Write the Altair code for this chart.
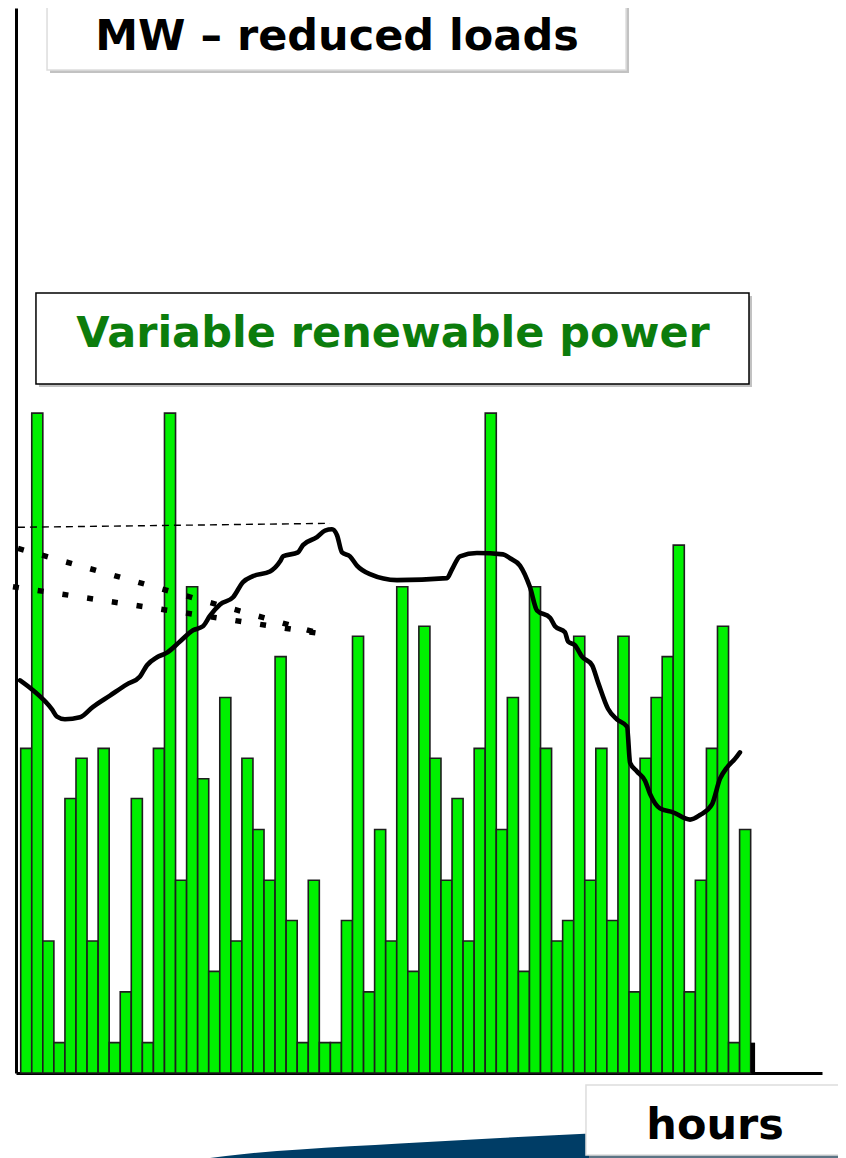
import altair as alt
import pandas as pd

# ---- data (MW shown in % of the tallest bar) ----
bar_values = [49.2, 100, 20, 4.6, 41.6, 47.7, 20, 49.2, 4.6, 12.3, 41.6, 4.6, 49.2, 100,
              29.2, 73.7, 44.6, 15.4, 56.9, 20, 47.7, 36.9, 29.2, 63.1, 23.1, 4.6, 29.2,
              4.6, 4.6, 23.1, 66.2, 12.3, 36.9, 20, 73.7, 15.4, 67.7, 47.7, 29.2, 41.6,
              20, 49.2, 100, 36.9, 56.9, 15.4, 73.7, 49.2, 20, 23.1, 66.2, 29.2, 49.2,
              23.1, 66.2, 12.3, 47.7, 56.9, 63.1, 80.0, 12.3, 29.2, 49.2, 67.7, 4.6, 36.9]

curve_x = [-0.06, 1.11, 2.83, 3.28, 4.0, 5.36, 6.54, 8.07, 9.6, 10.79, 11.42, 12.32, 13.23,
           14.4, 15.58, 16.48, 17.12, 18.02, 19.2, 20.1, 21.0, 22.54, 23.44, 23.72, 25.07,
           25.52, 26.79, 27.51, 28.15, 28.6, 29.05, 29.77, 30.4, 31.58, 34.02, 38.54, 38.99,
           39.72, 41.25, 43.61, 44.24, 45.14, 46.05, 46.68, 47.86, 48.31, 49.21, 49.49,
           50.12, 50.75, 51.66, 52.2, 53.1, 53.9, 54.82, 55.1, 55.72, 56.45, 56.9, 57.8,
           58.98, 60.52, 61.42, 62.5, 63.23, 63.86, 64.58, 65.03]
curve_y = [59.5, 58.0, 55.1, 54.0, 53.6, 53.9, 55.5, 57.2, 58.9, 60.1, 61.8, 63.0, 63.7,
           65.4, 67.1, 67.7, 69.3, 71.0, 72.1, 74.4, 75.3, 76.0, 77.5, 78.3, 78.9,
           80.0, 81.2, 82.2, 82.4, 81.5, 78.9, 78.3, 76.9, 75.6, 74.7, 75.0, 76.3,
           78.3, 78.8, 78.6, 78.0, 76.9, 73.6, 70.1, 69.0, 67.7, 66.8, 65.4,
           64.8, 63.1, 61.8, 59.2, 55.2, 53.6, 52.5, 47.0, 45.7, 44.3, 42.3, 40.1,
           39.5, 38.4, 39.1, 40.7, 44.6, 46.3, 47.6, 48.6]

dash_x = [-0.25, 27.97]
dash_y = [82.7, 83.3]

dot_upper_x = [-0.24, 27.06]
dot_upper_y = [79.5, 66.6]
dot_lower_x = [-0.70, 27.06]
dot_lower_y = [73.7, 66.6]

stub_x = [66.0, 66.4]
stub_y = [4.6, 0]

swoosh_x = [17.12, 20.0, 25.25, 34.29, 43.34, 52.38, 61.42, 74.62]
swoosh_y = [-12.88, -12.3, -11.6, -10.7, -9.85, -9.09, -8.48, -7.88]
swoosh_base = -12.9

labels = ["MW – reduced loads", "Variable renewable power", "hours"]

# ---- annotation layout (data units) ----
box_x1 = [2.38, 1.38, 51.11]
box_x2 = [54.73, 65.85, 74.2]
box_y1 = [163.5, 118.2, -1.82]
box_y2 = [152.0, 104.4, -12.42]
box_stroke = ["#dddddd", "#000000", "#dddddd"]
text_x = [28.6, 33.66, 62.78]
text_y = [155.0, 110.0, -10.0]
text_color = ["#000000", "#0c7c0c", "#000000"]

xscale = alt.Scale(domain=[-0.425, 72.45], nice=False, zero=False)
yscale = alt.Scale(domain=[0, 161.4], nice=False, zero=False)
ax = alt.Axis(title=None, labels=False, ticks=False, grid=False,
              domainColor="black", domainWidth=3)

bars_df = pd.DataFrame({"hour": list(range(len(bar_values))), "power": bar_values})
curve_df = pd.DataFrame({"x": curve_x, "y": curve_y})
dash_df = pd.DataFrame({"x": dash_x, "y": dash_y})
dots_df = pd.DataFrame({
    "x": dot_upper_x + dot_lower_x,
    "y": dot_upper_y + dot_lower_y,
    "grp": ["u", "u", "l", "l"],
})
stub_df = pd.DataFrame({"x1": [stub_x[0]], "x2": [stub_x[1]], "y1": [stub_y[0]], "y2": [stub_y[1]]})
swoosh_df = pd.DataFrame({"x": swoosh_x, "y": swoosh_y, "b": [swoosh_base] * len(swoosh_x)})
box_df = pd.DataFrame({"x1": box_x1, "x2": box_x2, "y1": box_y1, "y2": box_y2,
                       "stroke": box_stroke, "label": labels,
                       "tx": text_x, "ty": text_y, "tc": text_color})


def X(f):
    return alt.X(f, scale=xscale, axis=ax)


def Y(f):
    return alt.Y(f, scale=yscale, axis=ax)


swoosh = alt.Chart(swoosh_df).mark_area(color="#003d66", clip=False, interpolate="monotone").encode(
    x=X("x:Q"), y=Y("y:Q"), y2="b:Q",
)

bars = alt.Chart(bars_df).transform_calculate(
    hour_end="datum.hour + 1", base="0"
).mark_rect(color="#00f000", stroke="#1e1e1e", strokeWidth=1.6, clip=False).encode(
    x=X("hour:Q"), x2="hour_end:Q", y=Y("power:Q"), y2="base:Q",
)

stub = alt.Chart(stub_df).mark_rect(color="black", clip=False).encode(
    x=X("x1:Q"), x2="x2:Q", y=Y("y1:Q"), y2="y2:Q",
)

dashed = alt.Chart(dash_df).mark_line(color="black", strokeWidth=1.4, strokeDash=[7, 5], clip=False).encode(
    x=X("x:Q"), y=Y("y:Q"),
)

dotted = alt.Chart(dots_df).mark_line(color="black", strokeWidth=5.5, strokeDash=[6, 19], clip=False).encode(
    x=X("x:Q"), y=Y("y:Q"), detail="grp:N",
)

curve = alt.Chart(curve_df).mark_line(color="black", strokeWidth=4.6, interpolate="monotone",
                                      strokeCap="round", strokeJoin="round", clip=False).encode(
    x=X("x:Q"), y=Y("y:Q"),
)

shadow = alt.Chart(box_df).mark_rect(color="#9a9a9a", opacity=0.6, xOffset=3, x2Offset=3,
                                     yOffset=3, y2Offset=3, clip=False).encode(
    x=X("x1:Q"), x2="x2:Q", y=Y("y1:Q"), y2="y2:Q",
)

boxes = alt.Chart(box_df).mark_rect(fill="white", strokeWidth=1.5, clip=False).encode(
    x=X("x1:Q"), x2="x2:Q", y=Y("y1:Q"), y2="y2:Q",
    stroke=alt.Stroke("stroke:N", scale=None),
)

texts = alt.Chart(box_df).mark_text(font="DejaVu Sans", fontWeight="bold", fontSize=43,
                                    align="center", baseline="alphabetic", clip=False).encode(
    x=X("tx:Q"), y=Y("ty:Q"),
    text="label:N",
    color=alt.Color("tc:N", scale=None),
)

chart = alt.layer(swoosh, bars, stub, dashed, dotted, curve, shadow, boxes, texts).properties(
    width=806, height=1065,
    background="white",
    autosize=alt.AutoSizeParams(type="none"),
    padding={"left": 8, "top": 0, "right": 16, "bottom": 85},
).configure_view(stroke=None)

chart.save("out.html", embed_options={"renderer": "svg", "actions": False})
